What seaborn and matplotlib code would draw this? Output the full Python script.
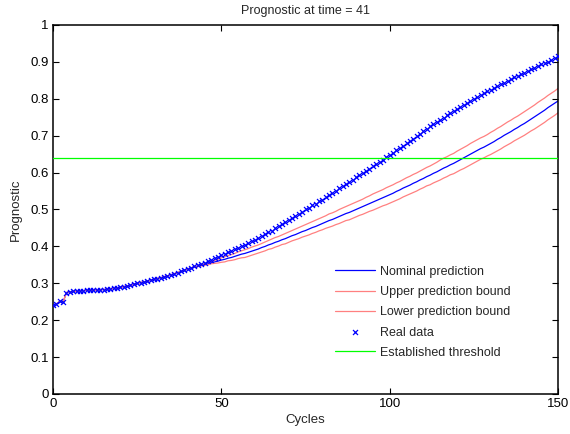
import matplotlib
matplotlib.use("Agg")
import matplotlib.pyplot as plt
import seaborn as sns

# real measurements, one per cycle (0..150)
real_data = [
    0.240, 0.244, 0.251, 0.249, 0.275, 0.277, 0.278, 0.279, 0.280, 0.280,
    0.281, 0.281, 0.282, 0.282, 0.283, 0.283, 0.284, 0.285, 0.286, 0.287,
    0.289, 0.291, 0.293, 0.295, 0.297, 0.300, 0.302, 0.304, 0.306, 0.308,
    0.311, 0.313, 0.315, 0.318, 0.320, 0.323, 0.326, 0.329, 0.332, 0.335,
    0.339, 0.342, 0.346, 0.349, 0.353, 0.356, 0.360, 0.364, 0.368, 0.372,
    0.376, 0.380, 0.384, 0.388, 0.392, 0.396, 0.400, 0.405, 0.409, 0.414,
    0.418, 0.423, 0.428, 0.433, 0.438, 0.443, 0.449, 0.454, 0.460, 0.465,
    0.471, 0.477, 0.483, 0.489, 0.494, 0.500, 0.505, 0.511, 0.516, 0.522,
    0.527, 0.533, 0.539, 0.545, 0.551, 0.557, 0.563, 0.569, 0.575, 0.581,
    0.587, 0.593, 0.599, 0.605, 0.611, 0.617, 0.623, 0.629, 0.635, 0.641,
    0.647, 0.653, 0.660, 0.666, 0.673, 0.679, 0.686, 0.692, 0.699, 0.705,
    0.712, 0.718, 0.725, 0.731, 0.737, 0.743, 0.749, 0.755, 0.761, 0.767,
    0.773, 0.778, 0.784, 0.789, 0.795, 0.800, 0.805, 0.810, 0.815, 0.820,
    0.825, 0.830, 0.835, 0.840, 0.844, 0.849, 0.853, 0.858, 0.862, 0.867,
    0.871, 0.875, 0.880, 0.884, 0.888, 0.893, 0.897, 0.901, 0.906, 0.910,
    0.917,
]

t_now = 41

# predictions from cycle 41 to 150
nominal = [
    0.342, 0.344, 0.346, 0.349, 0.351, 0.353, 0.356, 0.358, 0.360,
    0.363, 0.365, 0.368, 0.370, 0.373, 0.376, 0.379, 0.381, 0.384, 0.387,
    0.390, 0.393, 0.397, 0.400, 0.404, 0.407, 0.411, 0.414, 0.418, 0.421,
    0.425, 0.429, 0.432, 0.436, 0.440, 0.443, 0.447, 0.451, 0.454, 0.458,
    0.462, 0.466, 0.470, 0.473, 0.477, 0.481, 0.485, 0.489, 0.492, 0.496,
    0.500, 0.504, 0.508, 0.512, 0.516, 0.520, 0.524, 0.528, 0.532, 0.536,
    0.540, 0.544, 0.549, 0.553, 0.558, 0.562, 0.566, 0.571, 0.575, 0.580,
    0.584, 0.589, 0.593, 0.598, 0.602, 0.607, 0.612, 0.616, 0.621, 0.625,
    0.630, 0.635, 0.640, 0.645, 0.650, 0.655, 0.660, 0.665, 0.669, 0.674,
    0.679, 0.684, 0.690, 0.695, 0.701, 0.706, 0.711, 0.717, 0.722, 0.728,
    0.733, 0.739, 0.745, 0.751, 0.757, 0.763, 0.769, 0.776, 0.782, 0.788,
    0.794,
]
upper = [
    0.342, 0.345, 0.347, 0.351, 0.353, 0.356, 0.359, 0.362, 0.365,
    0.369, 0.372, 0.375, 0.378, 0.381, 0.385, 0.388, 0.391, 0.394, 0.398,
    0.401, 0.404, 0.408, 0.412, 0.416, 0.420, 0.424, 0.427, 0.431, 0.435,
    0.439, 0.443, 0.447, 0.451, 0.455, 0.459, 0.463, 0.467, 0.471, 0.475,
    0.479, 0.483, 0.488, 0.491, 0.495, 0.500, 0.504, 0.508, 0.512, 0.516,
    0.520, 0.524, 0.528, 0.533, 0.537, 0.542, 0.546, 0.550, 0.554, 0.559,
    0.563, 0.567, 0.572, 0.576, 0.581, 0.586, 0.590, 0.595, 0.599, 0.604,
    0.609, 0.614, 0.618, 0.623, 0.628, 0.634, 0.639, 0.643, 0.648, 0.652,
    0.658, 0.663, 0.668, 0.673, 0.679, 0.684, 0.689, 0.694, 0.698, 0.703,
    0.709, 0.714, 0.720, 0.725, 0.731, 0.737, 0.742, 0.748, 0.753, 0.759,
    0.765, 0.771, 0.777, 0.783, 0.790, 0.796, 0.802, 0.809, 0.815, 0.821,
    0.828,
]
lower = [
    0.342, 0.343, 0.345, 0.347, 0.349, 0.350, 0.353, 0.354, 0.355,
    0.357, 0.358, 0.361, 0.362, 0.364, 0.367, 0.369, 0.370, 0.373, 0.376,
    0.379, 0.382, 0.385, 0.388, 0.392, 0.394, 0.398, 0.401, 0.405, 0.407,
    0.411, 0.415, 0.418, 0.421, 0.425, 0.428, 0.431, 0.435, 0.438, 0.442,
    0.445, 0.449, 0.452, 0.455, 0.459, 0.462, 0.466, 0.470, 0.472, 0.476,
    0.480, 0.484, 0.487, 0.491, 0.495, 0.498, 0.502, 0.506, 0.510, 0.513,
    0.517, 0.521, 0.525, 0.529, 0.534, 0.538, 0.542, 0.546, 0.550, 0.555,
    0.559, 0.564, 0.567, 0.572, 0.576, 0.580, 0.585, 0.589, 0.594, 0.597,
    0.602, 0.607, 0.611, 0.616, 0.621, 0.626, 0.631, 0.636, 0.640, 0.645,
    0.649, 0.654, 0.659, 0.664, 0.670, 0.675, 0.680, 0.686, 0.691, 0.696,
    0.701, 0.707, 0.713, 0.718, 0.724, 0.730, 0.736, 0.743, 0.749, 0.755,
    0.762,
]

threshold = 0.64

cycles = list(range(len(real_data)))
# before the prediction time the curves follow the measured history
nominal_full = real_data[:t_now] + nominal
upper_full = real_data[:t_now] + upper
lower_full = real_data[:t_now] + lower

sns.set_style("ticks")
plt.rcParams["font.family"] = ["Liberation Sans", "DejaVu Sans"]

fig = plt.figure(figsize=(5.7, 4.34), dpi=100)
ax = fig.add_axes([53 / 570, 40 / 434, 505 / 570, 369 / 434])

sns.lineplot(x=cycles, y=nominal_full, color=(0, 0, 1), lw=0.9, label="Nominal prediction", ax=ax)
sns.lineplot(x=cycles, y=upper_full, color=(1, 0.5, 0.5), lw=0.9, label="Upper prediction bound", ax=ax)
sns.lineplot(x=cycles, y=lower_full, color=(1, 0.5, 0.5), lw=0.9, label="Lower prediction bound", ax=ax)
sns.scatterplot(x=cycles, y=real_data, color=(0, 0, 1), marker="x", s=13,
                linewidth=0.9, label="Real data", ax=ax, zorder=3)
ax.axhline(threshold, color=(0, 1, 0), lw=0.9, label="Established threshold", zorder=4)

ax.set_xlim(0, 150)
ax.set_ylim(0, 1)
ax.set_xticks([0, 50, 100, 150])
ax.set_yticks([i / 10 for i in range(11)])
ax.set_yticklabels(["0", "0.1", "0.2", "0.3", "0.4", "0.5", "0.6", "0.7", "0.8", "0.9", "1"])
ax.tick_params(direction="in", top=True, right=True, length=4, width=0.8,
               labelsize=9.5, pad=3, colors="black")
for s in ax.spines.values():
    s.set_linewidth(1.1)
    s.set_color("black")

ax.set_xlabel("Cycles", fontsize=9.5, labelpad=3)
ax.set_ylabel("Prognostic", fontsize=9.5, labelpad=6)
ax.set_title("Prognostic at time = 41", fontsize=9, pad=8)

ax.legend(loc="upper left", bbox_to_anchor=(0.549, 0.361), frameon=False,
          fontsize=9, handlelength=3.2, handletextpad=0.4, labelspacing=0.66,
          scatterpoints=1, borderaxespad=0)

fig.savefig("out.png", dpi=100)
